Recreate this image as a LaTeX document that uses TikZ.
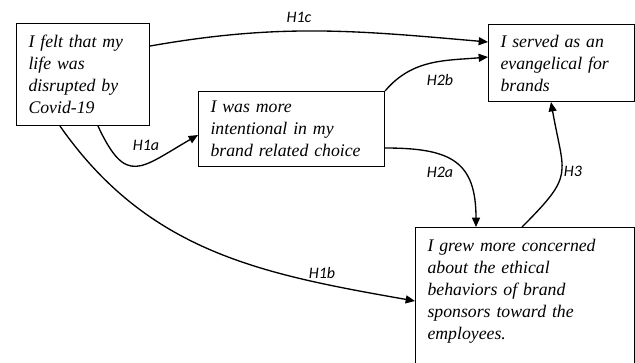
\documentclass[tikz,border=0pt]{standalone}
\usepackage{fontspec}
\setmainfont{Liberation Serif}
\newfontfamily\hypfont{Carlito}
\usetikzlibrary{arrows.meta}

\begin{document}
\begin{tikzpicture}[x=0.75pt, y=0.75pt,
    box/.style={rectangle, draw, line width=0.8pt, align=left, anchor=north west, inner xsep=9pt, font=\fontsize{13.3}{16.5}\selectfont\itshape},
    hyp/.style={font=\hypfont\fontsize{12}{14}\selectfont\itshape},
    link/.style={-{Triangle[length=7pt, width=6pt]}, line width=1pt}]
    \useasboundingbox (0,0) rectangle (635,-362);
    \clip (0,0) rectangle (635,-362);

    % Boxes
    \node (covid) [box, text width=81.75pt, minimum height=76.5pt] at (16,-23) {I felt that my\\ life was\\ disrupted by\\ Covid-19};
    \node (intentional) [box, text width=121.5pt, minimum height=56.25pt] at (198,-91) {I was more\\ intentional in my\\ brand related choice};
    \node (evangelical) [box, text width=91.5pt, minimum height=57.75pt] at (488,-24) {I served as an\\ evangelical for\\ brands};
    \node (concern) [box, text width=146.25pt, inner ysep=8.5pt, text depth=110pt] at (415,-227) {I grew more concerned\\ about the ethical\\ behaviors of brand\\ sponsors toward the\\ employees.};

    % Labels
    \node (h1c) [hyp] at (299,-17) {H1c};
    \node (h2b) [hyp] at (440,-80) {H2b};
    \node (h1a) [hyp] at (146,-145) {H1a};
    \node (h2a) [hyp] at (440,-172) {H2a};
    \node (h3) [hyp] at (573,-171) {H3};
    \node (h1b) [hyp] at (322,-273) {H1b};

    % Edges
    \draw[link] ([shift={(0,-23)}]covid.north east) to[out=10, in=175] ([shift={(0,-18)}]evangelical.north west);
    \draw[link] (intentional.north east) to[out=50, in=185] ([shift={(0,-33)}]evangelical.north west);
    \draw[link] ([shift={(82,0)}]covid.south west) to[out=-65, in=210, looseness=1.7] ([shift={(0,-44)}]intentional.north west);
    \draw[link] ([shift={(44,0)}]covid.south west) to[out=-55, in=170] ([shift={(0,-74)}]concern.north west);
    \draw[link] ([shift={(0,-57)}]intentional.north east) to[out=0, in=90, looseness=1.4] ([shift={(61,0)}]concern.north west);
    \draw[link] ([shift={(107,0)}]concern.north west) to[out=45, in=-80, looseness=1.5] ([shift={(63,0)}]evangelical.south west);
\end{tikzpicture}
\end{document}
